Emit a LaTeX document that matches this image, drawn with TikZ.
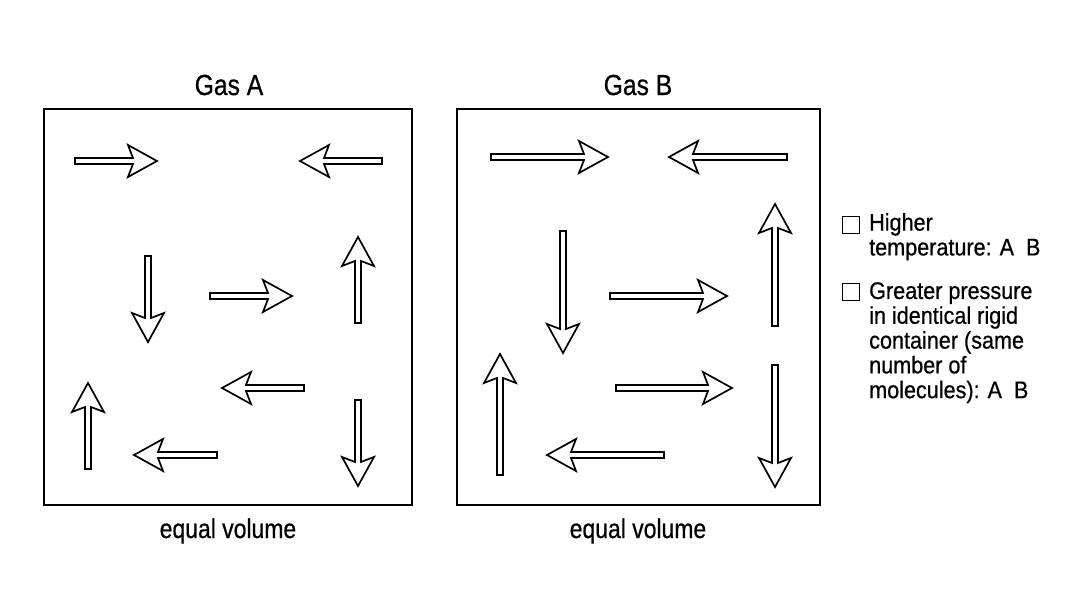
\documentclass[tikz,border=0pt]{standalone}
\usepackage{fontspec}
\setmainfont{Liberation Sans}[FakeStretch=0.85, FakeBold=0.6]
\newfontfamily\legendfont{Liberation Sans}[FakeStretch=0.9, FakeBold=0.6]
\usepackage{tikz}
\usetikzlibrary{positioning}

\begin{document}
\begin{tikzpicture}[
  x=1pt, y=-1pt,
  container/.style={rectangle, draw, line width=2pt, inner sep=0pt},
  title/.style={font=\fontsize{29}{34}\selectfont, inner sep=0pt},
  caption/.style={font=\fontsize{27}{32}\selectfont, inner sep=0pt},
  chk/.style={rectangle, draw, line width=1.6pt, minimum size=17pt, inner sep=0pt},
  legend/.style={font=\legendfont\fontsize{24}{24.8}\selectfont, align=left, inner sep=0pt},
  pics/vel/.style={code={
    \draw[line width=1.7pt, line join=miter, fill=white]
      (0,-3) -- (#1-24,-3) -- (#1-29,-16) -- (#1,0) -- (#1-29,16) -- (#1-24,3) -- (0,3) -- cycle;
  }},
]
\useasboundingbox (0,0) rectangle (1080,589);

% Containers
\node[container, minimum width=368pt, minimum height=396pt] (boxA) at (228,307) {};
\node[container, minimum width=363pt, minimum height=396pt] (boxB) at (638.5,307) {};

% Labels
\node[title, anchor=base] (gasA) at (229,95) {Gas A};
\node[title, anchor=base] (gasB) at (638,95) {Gas B};
\node[caption, anchor=base] (volA) at (228,538) {equal volume};
\node[caption, anchor=base] (volB) at (638,538) {equal volume};

% Gas A molecules
\pic at (75,161) {vel=82};
\pic[rotate=180] at (382,161) {vel=82};
\pic[rotate=-90] at (148,256) {vel=86};
\pic at (210,296) {vel=82};
\pic[rotate=90] at (358,323) {vel=86};
\pic[rotate=180] at (304,388) {vel=82};
\pic[rotate=90] at (88,469) {vel=86};
\pic[rotate=180] at (217,455) {vel=83};
\pic[rotate=-90] at (358,400) {vel=86};

% Gas B molecules
\pic at (491,157) {vel=117};
\pic[rotate=180] at (787,157) {vel=118};
\pic[rotate=-90] at (563,231) {vel=122};
\pic at (610,296) {vel=117};
\pic[rotate=90] at (775,326) {vel=122};
\pic[rotate=90] at (500,475) {vel=121};
\pic at (616,388) {vel=116};
\pic[rotate=180] at (664,455) {vel=117};
\pic[rotate=-90] at (775,365) {vel=122};

% Legend
\node[chk] (chk1) at (851,225) {};
\node[legend, anchor=north west] (txt1) at (869,213) {Higher\\temperature: A~~B};
\node[chk] (chk2) at (851,292) {};
\node[legend, anchor=north west] (txt2) at (869,282) {Greater pressure\\in identical rigid\\container (same\\number of\\molecules): A~~B};
\end{tikzpicture}
\end{document}
